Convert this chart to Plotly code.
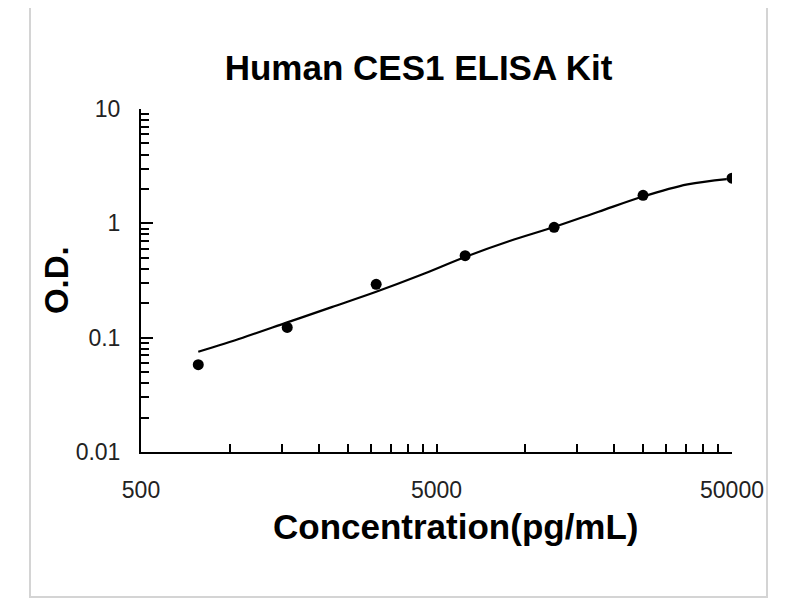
import plotly.graph_objects as go

# standard points (pg/mL vs O.D.)
conc = [781.25, 1562.5, 3125, 6250, 12500, 25000, 50000]
od = [0.058, 0.123, 0.293, 0.521, 0.923, 1.758, 2.48]

# fitted curve
fit_conc = [781.25, 1105, 1562.5, 2210, 3125, 4419, 6250, 8839, 12500, 17678, 25000, 35355, 48000]
fit_od = [0.0754, 0.100, 0.136, 0.185, 0.252, 0.353, 0.508, 0.700, 0.929, 1.264, 1.718, 2.19, 2.44]

x_ticks = [500, 5000, 50000]
x_labels = ["500", "5000", "50000"]
x_minor = [1000, 1500, 2000, 2500, 3000, 3500, 4000, 4500,
           10000, 15000, 20000, 25000, 30000, 35000, 40000, 45000]
y_ticks = [0.01, 0.1, 1, 10]
y_labels = ["0.01", "0.1", "1", "10"]
y_minor = [m * d for d in (0.01, 0.1, 1) for m in range(2, 10)]

fig = go.Figure()
fig.add_trace(go.Scatter(x=fit_conc, y=fit_od, mode="lines", line_shape="spline",
                         line=dict(color="black", width=2.2), hoverinfo="skip"))
fig.add_trace(go.Scatter(x=conc, y=od, mode="markers",
                         marker=dict(color="black", size=11)))

tick_font = dict(family="Liberation Sans, Arial", size=23, color="#222222")
lab_font = dict(family="Liberation Sans, Arial", size=35, color="black")

# page body adds ~8px offset, so margins are shifted by that
fig.update_layout(
    width=800, height=600,
    margin=dict(l=133, r=76, t=101, b=156),
    paper_bgcolor="white", plot_bgcolor="white",
    showlegend=False,
    title=dict(text="<b>Human CES1 ELISA Kit</b>", x=(418.5 - 8) / 800, xanchor="center",
               y=1 - 60 / 600, yanchor="middle", yref="container",
               font=dict(family="Liberation Sans, Arial", size=35, color="black")),
    xaxis=dict(type="log", range=[2.69897, 4.69897], showgrid=False, zeroline=False,
               showline=True, linecolor="black", linewidth=2,
               tickmode="array", tickvals=x_ticks, ticktext=x_labels,
               ticks="inside", ticklen=8, tickwidth=2, tickcolor="black",
               tickfont=tick_font, ticklabelstandoff=16,
               minor=dict(tickmode="array", tickvals=x_minor, ticks="inside",
                          ticklen=8, tickwidth=2, tickcolor="black")),
    yaxis=dict(type="log", range=[-2, 1], showgrid=False, zeroline=False,
               showline=True, linecolor="black", linewidth=2,
               tickmode="array", tickvals=y_ticks, ticktext=y_labels,
               ticks="inside", ticklen=12, tickwidth=2, tickcolor="black",
               tickfont=tick_font, ticklabelstandoff=14,
               minor=dict(tickmode="array", tickvals=y_minor, ticks="inside",
                          ticklen=8, tickwidth=2, tickcolor="black")),
    annotations=[
        dict(text="<b>Concentration(pg/mL)</b>", xref="paper", yref="paper",
             x=0.533, y=-0.218, xanchor="center", yanchor="middle",
             showarrow=False, font=lab_font),
        dict(text="<b>O.D.</b>", xref="paper", yref="paper", textangle=-90,
             x=-0.142, y=0.5015, xanchor="center", yanchor="middle",
             showarrow=False, font=dict(family="Liberation Sans, Arial", size=33, color="black")),
    ],
    shapes=[
        dict(type="rect", xref="paper", yref="paper",
             x0=(30 - 141) / 591, x1=(767 - 141) / 591,
             y0=(452 - 597) / 343, y1=(452 - 1) / 343,
             line=dict(color="#d4d4d4", width=2), layer="below"),
    ],
)

fig.write_html("out.html")
